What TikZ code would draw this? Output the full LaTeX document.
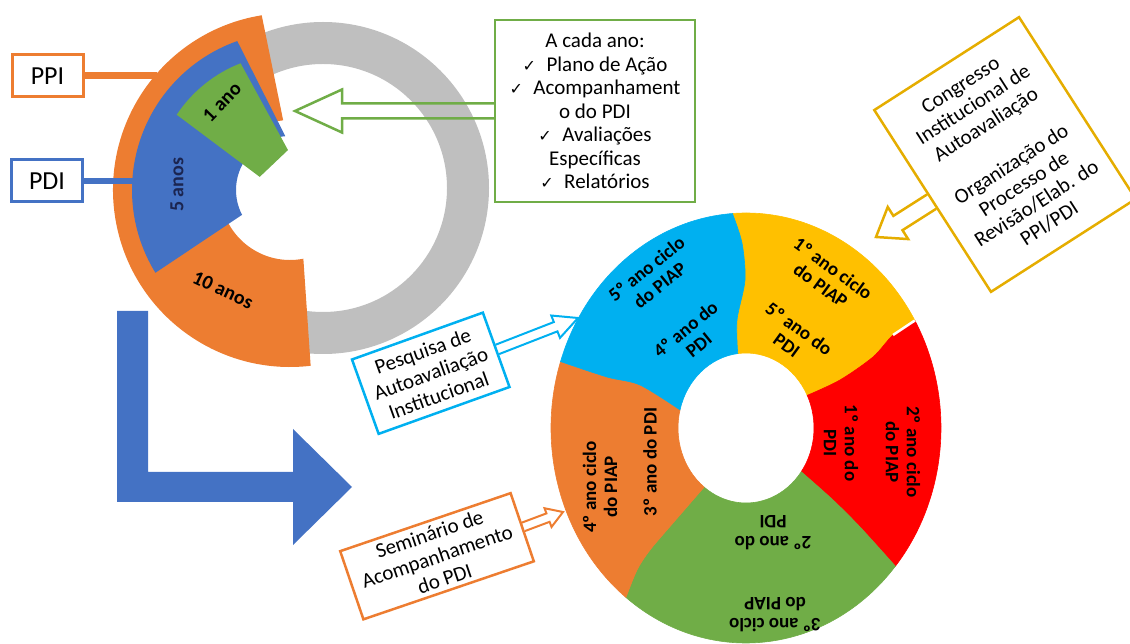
\documentclass[tikz,border=0pt]{standalone}
\usepackage{fontspec}
\setmainfont{Carlito}
\newfontfamily\symfont{DejaVu Sans}
\usetikzlibrary{calc}

\definecolor{ppiorange}{HTML}{ED7D31}
\definecolor{pdiblue}{HTML}{4472C4}
\definecolor{anogreen}{HTML}{70AD47}
\definecolor{ringgrey}{HTML}{BFBFBF}
\definecolor{piapcyan}{HTML}{00B0F0}
\definecolor{piapyellow}{HTML}{FFC000}
\definecolor{piapred}{HTML}{FF0000}
\definecolor{navytext}{HTML}{1B2550}

\newcommand{\chk}{{\symfont\fontsize{16}{20}\selectfont ✓}\enspace}

% open arrow: style, from, tip, shaft half width, head half width, head length
\newcommand{\openarrow}[6]{%
  \coordinate (ahb) at ($(#3)!#6!(#2)$);
  \draw[#1] ($(#2)!#4!90:(#3)$) -- ($(ahb)!#4!90:(#3)$) -- ($(ahb)!#5!90:(#3)$) -- (#3)
    -- ($(ahb)!#5!-90:(#3)$) -- ($(ahb)!#4!-90:(#3)$) -- ($(#2)!#4!-90:(#3)$);}

\tikzset{
  label box/.style={draw, line width=2.5pt, inner sep=0pt, align=center,
    font=\fontsize{21}{23.5}\selectfont},
  tag box/.style={draw, line width=3pt, inner sep=0pt, minimum width=71pt,
    minimum height=42pt, font=\fontsize{26}{30}\selectfont},
  slice text/.style={align=center, font=\bfseries\fontsize{19}{21}\selectfont},
  year text/.style={font=\bfseries\fontsize{20}{24}\selectfont},
}

\begin{document}
\begin{tikzpicture}[x=1pt,y=1pt]
\useasboundingbox (0,0) rectangle (1130,643);

% PPI / PDI / ano
\coordinate (c1) at (290,453);
\coordinate (g1) at (323,455);
\fill[ringgrey, even odd rule] (g1) circle (166) (g1) circle (124);
\begin{scope}[shift={(c1)}]
  \fill[ppiorange] (95.6:70) -- (99.2:177) arc[start angle=99.2, end angle=276.7, radius=177]
    -- (281:70) arc[start angle=281, end angle=95.6, radius=70] -- cycle;
  \fill[pdiblue] (95:54) -- (109.5:158) arc[start angle=109.5, end angle=211.6, radius=158]
    -- (207.4:54) arc[start angle=207.4, end angle=95, radius=54] -- cycle;
  \fill[anogreen] (156.6:33) -- (146.4:136) arc[start angle=146.4, end angle=111.3, radius=136]
    -- (92.9:40) -- cycle;
\end{scope}
\node[year text, rotate=46] (umano) at (222,541) {1 ano};
\node[year text, text=navytext, rotate=90] (cincoanos) at (177,458) {5 anos};
\node[year text, rotate=-25] (dezanos) at (223,353) {10 anos};

\node[tag box, draw=ppiorange] (ppi) at (47.5,567) {PPI};
\node[tag box, draw=pdiblue] (pdi) at (47,462) {PDI};
\coordinate (ppiend) at (157,567);
\coordinate (pdiend) at (134,462);
\draw[ppiorange, line width=7pt] (ppi.east) -- (ppiend);
\draw[pdiblue, line width=6pt] (pdi.east) -- (pdiend);

\node[label box, draw=anogreen, minimum width=200pt, minimum height=182pt] (acada) at (595,532)
  {A cada ano:\\ \chk Plano de Ação\\ \chk Acompanhament\\ o do PDI\\ \chk Avaliações\\ Específicas\\ \chk Relatórios};
\coordinate (anotip) at (295,532);
\openarrow{anogreen, line width=2.5pt}{acada.west}{anotip}{7.5pt}{21.5pt}{47pt}

% seta
\fill[pdiblue] (117,332) -- (148,332) -- (148,171) -- (293,171) -- (293,214) -- (352,156)
  -- (293,98) -- (293,141) -- (117,141) -- cycle;

% ciclo do PIAP
\begin{scope}[shift={(746,215)}]
  \coordinate (b1i) at (97:68 and 75);
  \coordinate (b1a) at (-9,108);
  \coordinate (b1b) at (-1,148);
  \coordinate (b1c) at (-4,185);
  \coordinate (b1o) at (94:195 and 215);
  \coordinate (b2i) at (25.8:68 and 75);
  \coordinate (b2a) at (94,48);
  \coordinate (b2b) at (127,71);
  \coordinate (b2c) at (147,93);
  \coordinate (b2o) at (30:195 and 215);
  \coordinate (b3i) at (-35.7:68 and 75);
  \coordinate (b3a) at (87,-72);
  \coordinate (b3b) at (114,-99);
  \coordinate (b3o) at (-40:195 and 215);
  \coordinate (b4i) at (232:68 and 75);
  \coordinate (b4a) at (-73,-95);
  \coordinate (b4b) at (-96,-122);
  \coordinate (b4c) at (-109,-142);
  \coordinate (b4o) at (232:195 and 215);
  \coordinate (b5i) at (166:68 and 75);
  \coordinate (b5a) at (-106,43);
  \coordinate (b5b) at (-139,51);
  \coordinate (b5o) at (162:195 and 215);
\end{scope}
\filldraw[fill=piapyellow, draw=piapyellow, line width=.6pt]
  plot[smooth] coordinates {(b1i) (b1a) (b1b) (b1c) (b1o)}
  arc[start angle=94, end angle=30, x radius=195, y radius=215]
  -- plot[smooth] coordinates {(b2o) (b2c) (b2b) (b2a) (b2i)}
  arc[start angle=25.8, end angle=97, x radius=68, y radius=75] -- cycle;
\filldraw[fill=piapred, draw=piapred, line width=.6pt]
  plot[smooth] coordinates {(b2i) (b2a) (b2b) (b2c) (b2o)}
  arc[start angle=30, end angle=-40, x radius=195, y radius=215]
  -- plot[smooth] coordinates {(b3o) (b3b) (b3a) (b3i)}
  arc[start angle=-35.7, end angle=25.8, x radius=68, y radius=75] -- cycle;
\filldraw[fill=anogreen, draw=anogreen, line width=.6pt]
  plot[smooth] coordinates {(b3i) (b3a) (b3b) (b3o)}
  arc[start angle=-40, end angle=-128, x radius=195, y radius=215]
  -- plot[smooth] coordinates {(b4o) (b4c) (b4b) (b4a) (b4i)}
  arc[start angle=232, end angle=324.3, x radius=68, y radius=75] -- cycle;
\filldraw[fill=ppiorange, draw=ppiorange, line width=.6pt]
  plot[smooth] coordinates {(b4i) (b4a) (b4b) (b4c) (b4o)}
  arc[start angle=232, end angle=162, x radius=195, y radius=215]
  -- plot[smooth] coordinates {(b5o) (b5b) (b5a) (b5i)}
  arc[start angle=166, end angle=232, x radius=68, y radius=75] -- cycle;
\filldraw[fill=piapcyan, draw=piapcyan, line width=.6pt]
  plot[smooth] coordinates {(b5i) (b5a) (b5b) (b5o)}
  arc[start angle=162, end angle=94, x radius=195, y radius=215]
  -- plot[smooth] coordinates {(b1o) (b1c) (b1b) (b1a) (b1i)}
  arc[start angle=97, end angle=166, x radius=68, y radius=75] -- cycle;
\draw[white, line width=2.5pt] plot[smooth] coordinates {(b2c) (b2o)};

\node[slice text, rotate=39] (ciclo5) at (653,366) {5º ano ciclo\\do PIAP};
\node[slice text, rotate=39] (pdi4) at (692,306) {4º ano do\\PDI};
\node[slice text, rotate=-36] (ciclo1) at (827,366) {1º ano ciclo\\do PIAP};
\node[slice text, rotate=-36] (pdi5) at (793,306) {5º ano do\\PDI};
\node[slice text, rotate=-90] (ciclo2) at (903,191) {2º ano ciclo\\do PIAP};
\node[slice text, rotate=-90] (pdi1) at (841,200) {1º ano do\\PDI};
\node[slice text, rotate=180] (pdi2) at (773,110) {2º ano do\\PDI};
\node[slice text, rotate=180] (ciclo3) at (775,28) {3º ano ciclo\\do PIAP};
\node[slice text, rotate=90] (ciclo4) at (600,156) {4º ano ciclo\\do PIAP};
\node[slice text, rotate=90] (pdi3) at (650,181) {3º ano do PDI};

% caixas
\node[label box, draw=piapyellow!90!black, minimum width=172pt, minimum height=216pt, rotate=32.7]
  (congresso) at (1005,488.5)
  {Congresso\\ Institucional de\\ Autoavaliação\\[23.5pt] Organização do\\ Processo de\\ Revisão/Elab. do\\ PPI/PDI};
\coordinate (congtip) at (876,406);
\openarrow{piapyellow!90!black, line width=2.5pt}{congresso.west}{congtip}{8.5pt}{19pt}{26pt}

\node[label box, draw=piapcyan, minimum width=139pt, minimum height=79pt, rotate=19.7]
  (pesquisa) at (430.75,269.75) {Pesquisa de\\ Autoavaliação\\ Institucional};
\coordinate (pesqtip) at (578,325);
\openarrow{piapcyan, line width=2pt}{pesquisa.east}{pesqtip}{5pt}{12pt}{24pt}

\node[label box, draw=ppiorange, minimum width=180pt, minimum height=72pt, rotate=18.8]
  (seminario) at (437,86.75) {Seminário de\\ Acompanhamento\\ do PDI};
\coordinate (semtip) at (563,131);
\openarrow{ppiorange, line width=2pt}{seminario.east}{semtip}{4.5pt}{10pt}{16pt}
\end{tikzpicture}
\end{document}
